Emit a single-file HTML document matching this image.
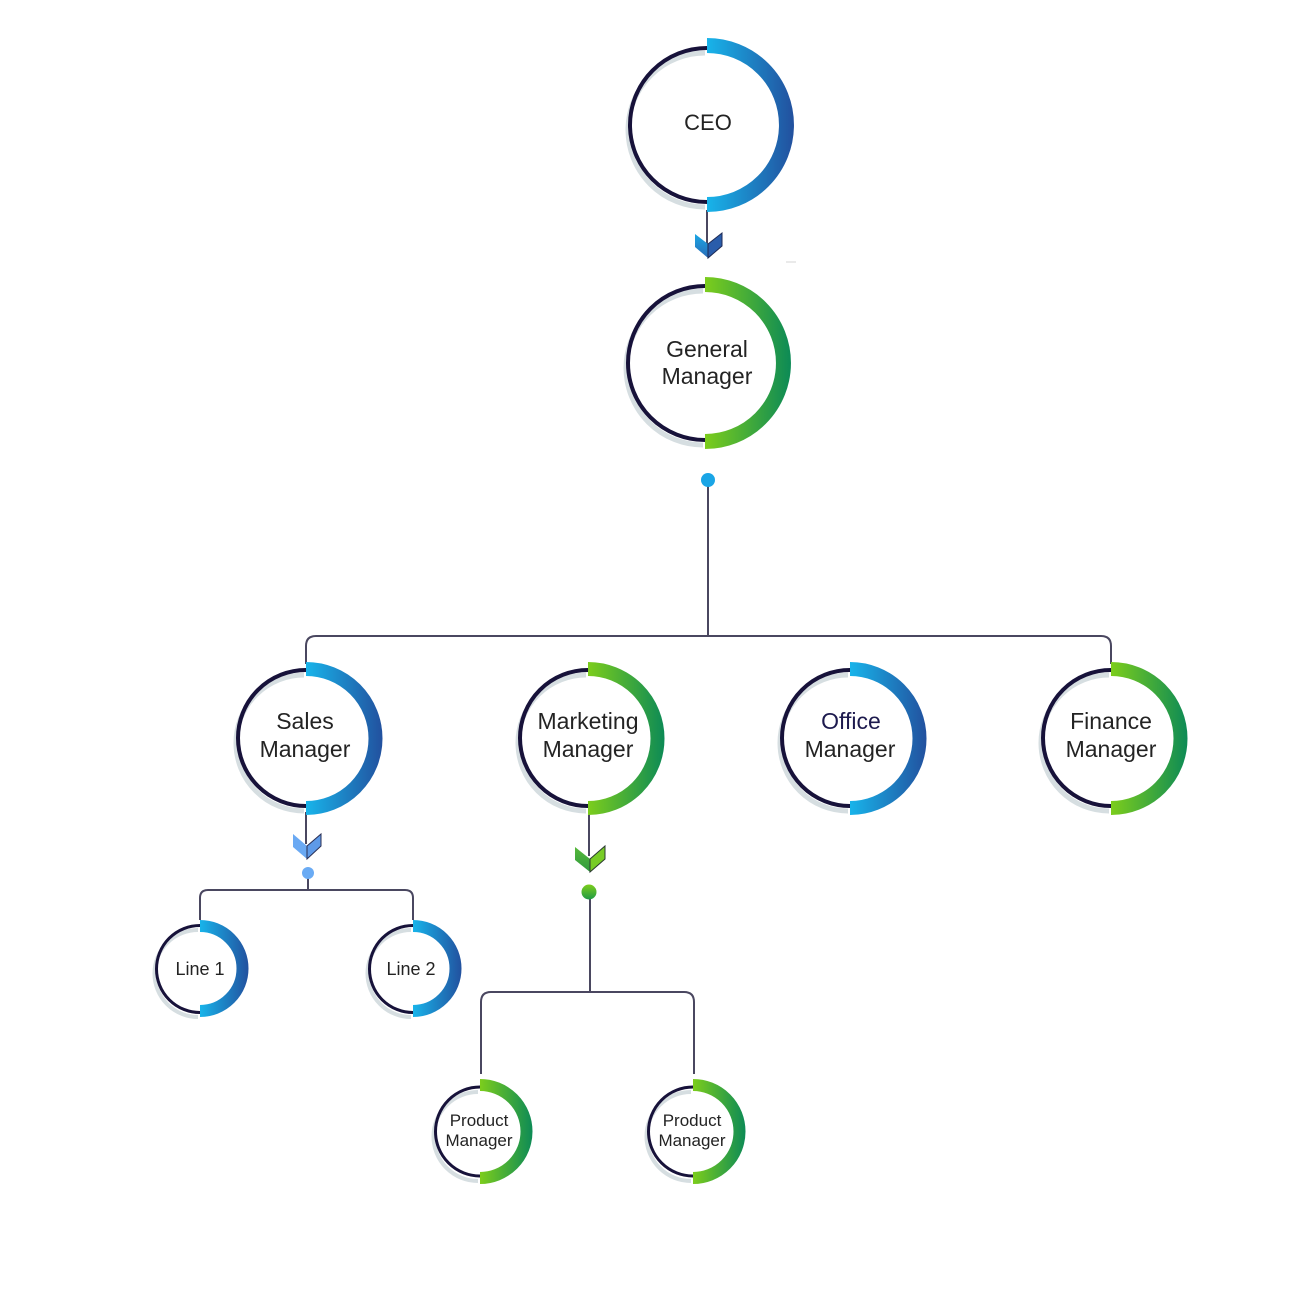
<!DOCTYPE html>
<html><head><meta charset="utf-8"><style>
html,body{margin:0;padding:0;background:#fff;}
svg{display:block;}
text{font-family:"Liberation Sans",Arial,sans-serif;fill:#232323;text-anchor:middle;}
</style></head><body>
<svg width="1300" height="1300" viewBox="0 0 1300 1300" xmlns="http://www.w3.org/2000/svg">
<defs>
<linearGradient id="bCEO" gradientUnits="userSpaceOnUse" x1="707" y1="0" x2="794" y2="0"><stop offset="0" stop-color="#18b4ea"/><stop offset="1" stop-color="#22509e"/></linearGradient>
<linearGradient id="gGM" gradientUnits="userSpaceOnUse" x1="705" y1="0" x2="791" y2="0"><stop offset="0" stop-color="#7ccd1c"/><stop offset="1" stop-color="#0c8a56"/></linearGradient>
<linearGradient id="bS" gradientUnits="userSpaceOnUse" x1="306" y1="0" x2="383" y2="0"><stop offset="0" stop-color="#18b4ea"/><stop offset="1" stop-color="#22509e"/></linearGradient>
<linearGradient id="gM" gradientUnits="userSpaceOnUse" x1="588" y1="0" x2="665" y2="0"><stop offset="0" stop-color="#7ccd1c"/><stop offset="1" stop-color="#0c8a56"/></linearGradient>
<linearGradient id="bO" gradientUnits="userSpaceOnUse" x1="850" y1="0" x2="927" y2="0"><stop offset="0" stop-color="#18b4ea"/><stop offset="1" stop-color="#22509e"/></linearGradient>
<linearGradient id="gF" gradientUnits="userSpaceOnUse" x1="1111" y1="0" x2="1188" y2="0"><stop offset="0" stop-color="#7ccd1c"/><stop offset="1" stop-color="#0c8a56"/></linearGradient>
<linearGradient id="bL1" gradientUnits="userSpaceOnUse" x1="200" y1="0" x2="249" y2="0"><stop offset="0" stop-color="#18b4ea"/><stop offset="1" stop-color="#22509e"/></linearGradient>
<linearGradient id="bL2" gradientUnits="userSpaceOnUse" x1="413" y1="0" x2="462" y2="0"><stop offset="0" stop-color="#18b4ea"/><stop offset="1" stop-color="#22509e"/></linearGradient>
<linearGradient id="gP1" gradientUnits="userSpaceOnUse" x1="480" y1="0" x2="533" y2="0"><stop offset="0" stop-color="#7ccd1c"/><stop offset="1" stop-color="#0c8a56"/></linearGradient>
<linearGradient id="gP2" gradientUnits="userSpaceOnUse" x1="693" y1="0" x2="746" y2="0"><stop offset="0" stop-color="#7ccd1c"/><stop offset="1" stop-color="#0c8a56"/></linearGradient>
<linearGradient id="dotG" x1="0" y1="0" x2="0" y2="1"><stop offset="0" stop-color="#7ccd1c"/><stop offset="1" stop-color="#1f9a45"/></linearGradient>
<linearGradient id="chB" x1="0" y1="0" x2="0" y2="1"><stop offset="0" stop-color="#1aa6e4"/><stop offset="1" stop-color="#2a6cb8"/></linearGradient>
<linearGradient id="chG" x1="0" y1="0" x2="0" y2="1"><stop offset="0" stop-color="#56b83a"/><stop offset="1" stop-color="#2e9a3e"/></linearGradient>
</defs>

<!-- connectors -->
<g fill="none" stroke="#4a4760" stroke-width="2">
  <line x1="707" y1="210" x2="707" y2="244"/>
  <line x1="708" y1="480" x2="708" y2="636"/>
  <path d="M306,664 V646 Q306,636 316,636 H1101 Q1111,636 1111,646 V664"/>
  <line x1="306" y1="812" x2="306" y2="844"/>
  <line x1="308" y1="873" x2="308" y2="890"/>
  <path d="M200,920 V898 Q200,890 208,890 H405 Q413,890 413,898 V920"/>
  <line x1="589" y1="812" x2="589" y2="856"/>
  <line x1="590" y1="892" x2="590" y2="992"/>
  <path d="M481,1074 V1002 Q481,992 491,992 H684 Q694,992 694,1002 V1074"/>
</g>
<line x1="786" y1="262" x2="796" y2="262" stroke="#e2e2e2" stroke-width="1.5"/>

<!-- dots -->
<circle cx="708" cy="480" r="7" fill="#1aa5e6"/>
<circle cx="308" cy="873" r="6" fill="#6aabf4"/>
<circle cx="589" cy="892" r="7.5" fill="url(#dotG)"/>

<!-- chevrons -->
<polygon points="695,234 708,244 708,258 695,247" fill="url(#chB)"/>
<polygon points="708,244 722,233 722,246 708,258" fill="#2a5dab" stroke="#1e2a55" stroke-width="1"/>
<polygon points="293,834 307,846 307,859 293,847" fill="#6aa9f3"/>
<polygon points="307,846 321,834 321,846 307,859" fill="#5e9ae8" stroke="#2a2f55" stroke-width="1"/>
<polygon points="575,847 590,859 590,872 575,860" fill="url(#chG)"/>
<polygon points="590,859 605,846 605,859 590,872" fill="#78cc26" stroke="#2a3a30" stroke-width="1"/>

<!-- CEO -->
<g fill="none">
  <path d="M705,53 A77,77 0 0 0 705,207" stroke="#d6dee1" stroke-width="5"/>
  <path d="M707,48 A77,77 0 0 0 707,202" stroke="#17123a" stroke-width="4"/>
  <path d="M707,45.5 A79.5,79.5 0 0 1 707,204.5" stroke="url(#bCEO)" stroke-width="15"/>
</g>
<text x="708" y="130" font-size="22">CEO</text>

<!-- GM -->
<g fill="none">
  <path d="M703,291 A77,77 0 0 0 703,445" stroke="#d6dee1" stroke-width="5"/>
  <path d="M705,286 A77,77 0 0 0 705,440" stroke="#17123a" stroke-width="4"/>
  <path d="M705,284.5 A78.5,78.5 0 0 1 705,441.5" stroke="url(#gGM)" stroke-width="15"/>
</g>
<text x="707" y="357" font-size="23">General</text>
<text x="707" y="384" font-size="23">Manager</text>

<!-- Sales -->
<g fill="none">
  <path d="M304,675 A68,68 0 0 0 304,811" stroke="#d6dee1" stroke-width="5"/>
  <path d="M306,670 A68,68 0 0 0 306,806" stroke="#17123a" stroke-width="4"/>
  <path d="M306,669 A69.5,69.5 0 0 1 306,808" stroke="url(#bS)" stroke-width="14"/>
</g>
<text x="305" y="729" font-size="23">Sales</text>
<text x="305" y="757" font-size="23">Manager</text>

<!-- Marketing -->
<g fill="none">
  <path d="M586,675 A68,68 0 0 0 586,811" stroke="#d6dee1" stroke-width="5"/>
  <path d="M588,670 A68,68 0 0 0 588,806" stroke="#17123a" stroke-width="4"/>
  <path d="M588,669 A69.5,69.5 0 0 1 588,808" stroke="url(#gM)" stroke-width="14"/>
</g>
<text x="588" y="729" font-size="23">Marketing</text>
<text x="588" y="757" font-size="23">Manager</text>

<!-- Office -->
<g fill="none">
  <path d="M848,675 A68,68 0 0 0 848,811" stroke="#d6dee1" stroke-width="5"/>
  <path d="M850,670 A68,68 0 0 0 850,806" stroke="#17123a" stroke-width="4"/>
  <path d="M850,669 A69.5,69.5 0 0 1 850,808" stroke="url(#bO)" stroke-width="14"/>
</g>
<text x="851" y="729" font-size="23" style="fill:#1d1a4e">Office</text>
<text x="850" y="757" font-size="23">Manager</text>

<!-- Finance -->
<g fill="none">
  <path d="M1109,675 A68,68 0 0 0 1109,811" stroke="#d6dee1" stroke-width="5"/>
  <path d="M1111,670 A68,68 0 0 0 1111,806" stroke="#17123a" stroke-width="4"/>
  <path d="M1111,669 A69.5,69.5 0 0 1 1111,808" stroke="url(#gF)" stroke-width="14"/>
</g>
<text x="1111" y="729" font-size="23">Finance</text>
<text x="1111" y="757" font-size="23">Manager</text>

<!-- Line 1 -->
<g fill="none">
  <path d="M198,930 A43.5,43.5 0 0 0 198,1017" stroke="#d6dee1" stroke-width="4"/>
  <path d="M200,925.5 A43.5,43.5 0 0 0 200,1012.5" stroke="#17123a" stroke-width="3"/>
  <path d="M200,926 A42.5,42.5 0 0 1 200,1011" stroke="url(#bL1)" stroke-width="12"/>
</g>
<text x="200" y="975" font-size="18">Line 1</text>

<!-- Line 2 -->
<g fill="none">
  <path d="M411,930 A43.5,43.5 0 0 0 411,1017" stroke="#d6dee1" stroke-width="4"/>
  <path d="M413,925.5 A43.5,43.5 0 0 0 413,1012.5" stroke="#17123a" stroke-width="3"/>
  <path d="M413,926 A42.5,42.5 0 0 1 413,1011" stroke="url(#bL2)" stroke-width="12"/>
</g>
<text x="411" y="975" font-size="18">Line 2</text>

<!-- Product 1 -->
<g fill="none">
  <path d="M478,1092 A44.5,44.5 0 0 0 478,1181" stroke="#d6dee1" stroke-width="4"/>
  <path d="M480,1087 A44.5,44.5 0 0 0 480,1176" stroke="#17123a" stroke-width="3"/>
  <path d="M480,1085 A46.5,46.5 0 0 1 480,1178" stroke="url(#gP1)" stroke-width="12"/>
</g>
<text x="479" y="1126" font-size="17">Product</text>
<text x="479" y="1146" font-size="17">Manager</text>

<!-- Product 2 -->
<g fill="none">
  <path d="M691,1092 A44.5,44.5 0 0 0 691,1181" stroke="#d6dee1" stroke-width="4"/>
  <path d="M693,1087 A44.5,44.5 0 0 0 693,1176" stroke="#17123a" stroke-width="3"/>
  <path d="M693,1085 A46.5,46.5 0 0 1 693,1178" stroke="url(#gP2)" stroke-width="12"/>
</g>
<text x="692" y="1126" font-size="17">Product</text>
<text x="692" y="1146" font-size="17">Manager</text>
</svg>
</body></html>
